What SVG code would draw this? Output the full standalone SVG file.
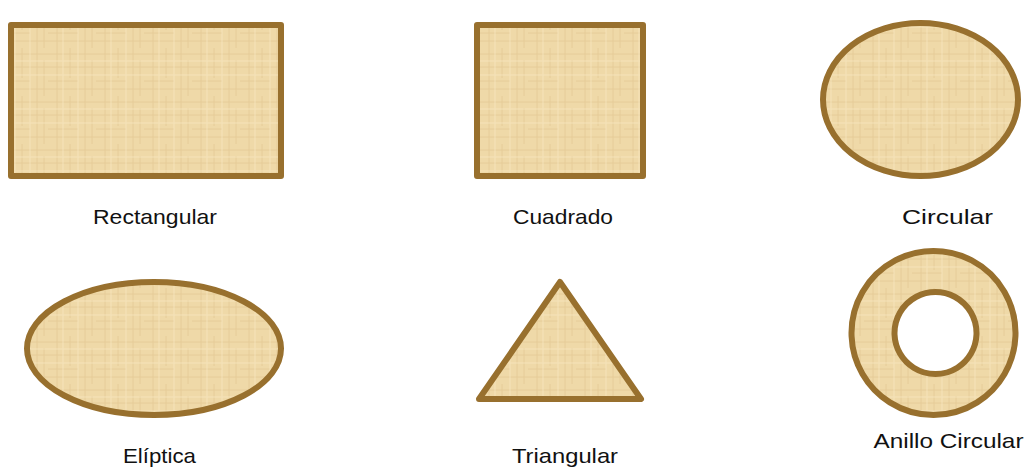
<svg xmlns="http://www.w3.org/2000/svg" width="1025" height="471" viewBox="0 0 1025 471">
  <style>
    .shape { fill: url(#papyrus); stroke: #98702E; stroke-width: 6; stroke-linejoin: round; }
    .label { font-family: "Liberation Sans", Arial, sans-serif; font-size: 21px; fill: #111111; text-anchor: middle; }
  </style>
  <defs>
    <pattern id="papyrus" patternUnits="userSpaceOnUse" width="48" height="48">
      <rect width="48" height="48" fill="#EFD9A8"/>
      <g stroke="#E0C48E" stroke-width="1" opacity="0.6">
        <line x1="0" y1="6" x2="48" y2="6"/>
        <line x1="0" y1="19" x2="48" y2="19"/>
        <line x1="0" y1="33" x2="30" y2="33"/>
        <line x1="0" y1="41" x2="48" y2="41"/>
        <line x1="9" y1="0" x2="9" y2="48"/>
        <line x1="22" y1="0" x2="22" y2="30"/>
        <line x1="37" y1="0" x2="37" y2="48"/>
        <line x1="44" y1="12" x2="44" y2="48"/>
      </g>
      <g stroke="#F7E7C0" stroke-width="1" opacity="0.7">
        <line x1="0" y1="13" x2="48" y2="13"/>
        <line x1="0" y1="27" x2="48" y2="27"/>
        <line x1="15" y1="0" x2="15" y2="48"/>
        <line x1="30" y1="0" x2="30" y2="48"/>
      </g>
    </pattern>
  </defs>

  <g id="rectangular">
    <rect class="shape" x="11" y="25" width="270" height="151"/>
    <text class="label" x="155" y="224" textLength="124" lengthAdjust="spacingAndGlyphs">Rectangular</text>
  </g>

  <g id="cuadrado">
    <rect class="shape" x="477" y="25" width="166" height="151"/>
    <text class="label" x="563" y="224" textLength="100" lengthAdjust="spacingAndGlyphs">Cuadrado</text>
  </g>

  <g id="circular">
    <ellipse class="shape" cx="920.5" cy="99.5" rx="97.5" ry="76.5"/>
    <text class="label" x="947.5" y="224" textLength="91" lengthAdjust="spacingAndGlyphs">Circular</text>
  </g>

  <g id="eliptica">
    <ellipse class="shape" cx="154" cy="348.5" rx="127" ry="66.5"/>
    <text class="label" x="159.5" y="463" textLength="73" lengthAdjust="spacingAndGlyphs">Elíptica</text>
  </g>

  <g id="triangular">
    <polygon class="shape" points="560,282 641,399 479,399"/>
    <text class="label" x="565" y="463" textLength="106" lengthAdjust="spacingAndGlyphs">Triangular</text>
  </g>

  <g id="anillo-circular">
    <path class="shape" fill-rule="evenodd" d="M933.5,251 a82,82 0 1,0 0.01,0 Z M935.5,292 a41,41 0 1,0 0.01,0 Z"/>
    <text class="label" x="948.5" y="448" textLength="150" lengthAdjust="spacingAndGlyphs">Anillo Circular</text>
  </g>

  <g id="connectors"></g>
</svg>
